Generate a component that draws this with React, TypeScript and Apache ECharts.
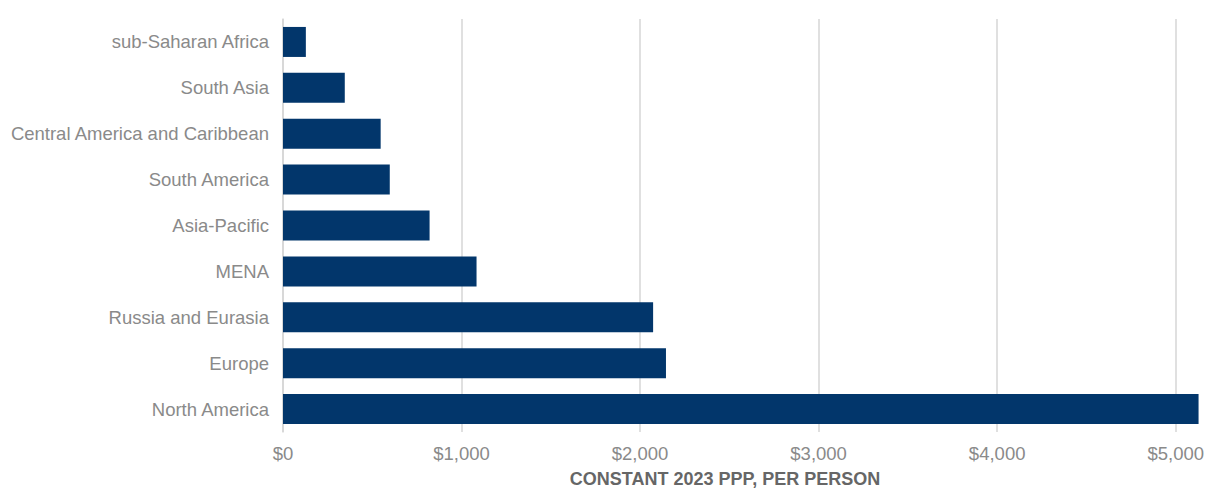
import React, { useEffect, useRef } from "react";
import * as echarts from "echarts";

const categories = [
  "North America",
  "Europe",
  "Russia and Eurasia",
  "MENA",
  "Asia-Pacific",
  "South America",
  "Central America and Caribbean",
  "South Asia",
  "sub-Saharan Africa",
];
const values = [5128, 2145, 2073, 1084, 821, 598, 547, 346, 128];
const axisTitle = "CONSTANT 2023 PPP, PER PERSON";

const FONT = "'Liberation Sans', Arial, Helvetica, sans-serif";

export default function App() {
  const ref = useRef<HTMLDivElement>(null);
  useEffect(() => {
    if (!ref.current) return;
    const chart = echarts.init(ref.current, null, { renderer: "svg" });
    chart.setOption({
      animation: false,
      textStyle: { fontFamily: FONT },
      grid: { left: 283, right: 5, top: 19, bottom: 58, containLabel: false },
      xAxis: {
        type: "value",
        min: 0,
        max: Math.max(...values),
        interval: 1000,
        axisLine: { show: false },
        axisTick: { show: false },
        splitLine: { show: true, showMaxLine: false, lineStyle: { color: "#d6d6d6", width: 1.5 } },
        axisLabel: {
          color: "#8a8a8a",
          fontSize: 18.5,
          margin: 12,
          fontFamily: FONT,
          showMaxLabel: false,
          hideOverlap: false,
          formatter: (v: number) => "$" + v.toLocaleString("en-US"),
        },
      },
      yAxis: {
        type: "category",
        data: categories,
        axisLine: { show: true, lineStyle: { color: "#d6d6d6", width: 1.5 } },
        axisTick: { show: false },
        axisLabel: { color: "#8a8a8a", fontSize: 18.5, margin: 14, fontFamily: FONT },
      },
      series: [
        {
          type: "bar",
          data: values,
          barWidth: 30,
          itemStyle: { color: "#02366b" },
        },
      ],
      graphic: [
        {
          type: "text",
          x: 725,
          y: 479,
          style: {
            text: axisTitle,
            fill: "#666666",
            font: "bold 18px " + FONT,
            textAlign: "center",
            textVerticalAlign: "middle",
          },
        },
      ],
    });
    return () => chart.dispose();
  }, []);
  return <div ref={ref} style={{ width: 1207, height: 490, position: "absolute", left: 0, top: 0 }} />;
}
